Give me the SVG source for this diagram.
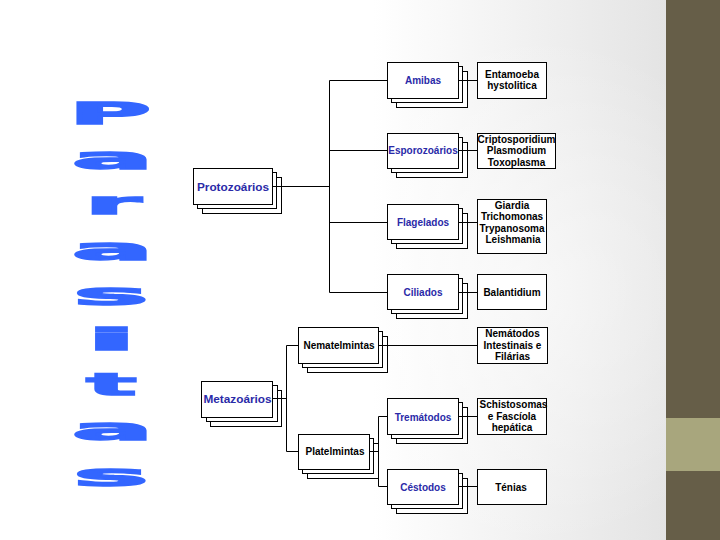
<svg xmlns="http://www.w3.org/2000/svg" width="720" height="540" viewBox="0 0 720 540">
<defs>
<linearGradient id="bg" gradientUnits="userSpaceOnUse" x1="0" y1="0" x2="666" y2="0">
<stop offset="0" stop-color="#ffffff"/>
<stop offset="0.56" stop-color="#ffffff"/>
<stop offset="1" stop-color="#e4e4e4"/>
</linearGradient>
<radialGradient id="glow" gradientUnits="userSpaceOnUse" cx="520" cy="290" r="260">
<stop offset="0" stop-color="#ffffff" stop-opacity="0.55"/>
<stop offset="1" stop-color="#ffffff" stop-opacity="0"/>
</radialGradient>
</defs>
<style>
.bx{fill:#ffffff;stroke:#000000;stroke-width:1}
.ln{fill:none;stroke:#000000;stroke-width:1}
.t{font-family:"Liberation Sans",Arial,sans-serif;font-weight:bold;font-size:10px;text-anchor:middle;fill:#000000}
.b{fill:#2a2aa8}
.big{font-size:11.8px}
.let{font-family:"DejaVu Sans",sans-serif;font-weight:bold;font-size:30px;text-anchor:middle;fill:#3366ff;stroke:#3366ff;stroke-width:1.5}
</style>
<rect x="0" y="0" width="720" height="540" fill="url(#bg)"/>
<rect x="0" y="0" width="666" height="540" fill="url(#glow)"/>
<rect x="666" y="0" width="54" height="540" fill="#665e48"/>
<rect x="666" y="418" width="54" height="53" fill="#a8a67d"/>

<g id="title">
<text class="let" x="110" y="124" textLength="82" lengthAdjust="spacingAndGlyphs">P</text>
<text class="let" x="112.5" y="169" textLength="81" lengthAdjust="spacingAndGlyphs">a</text>
<text class="let" x="113" y="214" textLength="56" lengthAdjust="spacingAndGlyphs">r</text>
<text class="let" x="112.5" y="260" textLength="81" lengthAdjust="spacingAndGlyphs">a</text>
<text class="let" x="111" y="305" textLength="75" lengthAdjust="spacingAndGlyphs">s</text>
<text class="let" x="111.5" y="350" textLength="50" lengthAdjust="spacingAndGlyphs">i</text>
<text class="let" x="111.5" y="395" textLength="50" lengthAdjust="spacingAndGlyphs">t</text>
<text class="let" x="112.5" y="440" textLength="81" lengthAdjust="spacingAndGlyphs">a</text>
<text class="let" x="111" y="486" textLength="75" lengthAdjust="spacingAndGlyphs">s</text>
</g>

<g id="nodes">
<g id="protozoarios">
<rect class="bx" x="202.5" y="177.5" width="79" height="36"/>
<rect class="bx" x="197.5" y="172.5" width="79" height="36"/>
<rect class="bx" x="193.5" y="168.5" width="79" height="36"/>
<text class="t b big" x="233" y="190.5">Protozoários</text>
</g>
<g id="metazoarios">
<rect class="bx" x="210.5" y="390.5" width="71" height="36"/>
<rect class="bx" x="206.5" y="385.5" width="71" height="36"/>
<rect class="bx" x="201.5" y="381.5" width="71" height="36"/>
<text class="t b big" x="237.5" y="402.5">Metazoários</text>
</g>
<g id="amibas">
<rect class="bx" x="396.5" y="71.5" width="71" height="36"/>
<rect class="bx" x="391.5" y="66.5" width="71" height="36"/>
<rect class="bx" x="387.5" y="62.5" width="71" height="36"/>
<text class="t b" x="423" y="84">Amibas</text>
</g>
<g id="esporozoarios">
<rect class="bx" x="396.5" y="142.5" width="71" height="35"/>
<rect class="bx" x="391.5" y="137.5" width="71" height="35"/>
<rect class="bx" x="387.5" y="133.5" width="71" height="35"/>
<text class="t b" x="423" y="154">Esporozoários</text>
</g>
<g id="flagelados">
<rect class="bx" x="396.5" y="213.5" width="71" height="35"/>
<rect class="bx" x="391.5" y="208.5" width="71" height="35"/>
<rect class="bx" x="387.5" y="204.5" width="71" height="35"/>
<text class="t b" x="423" y="226">Flagelados</text>
</g>
<g id="ciliados">
<rect class="bx" x="396.5" y="283.5" width="71" height="35"/>
<rect class="bx" x="391.5" y="278.5" width="71" height="35"/>
<rect class="bx" x="387.5" y="274.5" width="71" height="35"/>
<text class="t b" x="423" y="295.5">Ciliados</text>
</g>
<g id="nematelmintas">
<rect class="bx" x="307.5" y="336.5" width="80" height="36"/>
<rect class="bx" x="302.5" y="331.5" width="80" height="36"/>
<rect class="bx" x="298.5" y="327.5" width="80" height="36"/>
<text class="t" x="339" y="349">Nematelmintas</text>
</g>
<g id="platelmintas">
<rect class="bx" x="307.5" y="443.5" width="71" height="35"/>
<rect class="bx" x="302.5" y="438.5" width="71" height="35"/>
<rect class="bx" x="298.5" y="434.5" width="71" height="35"/>
<text class="t" x="335" y="455">Platelmintas</text>
</g>
<g id="trematodos">
<rect class="bx" x="396.5" y="407.5" width="71" height="36"/>
<rect class="bx" x="391.5" y="402.5" width="71" height="36"/>
<rect class="bx" x="387.5" y="398.5" width="71" height="36"/>
<text class="t b" x="423" y="420.5">Tremátodos</text>
</g>
<g id="cestodos">
<rect class="bx" x="396.5" y="478.5" width="71" height="35"/>
<rect class="bx" x="391.5" y="473.5" width="71" height="35"/>
<rect class="bx" x="387.5" y="469.5" width="71" height="35"/>
<text class="t b" x="423" y="490.5">Céstodos</text>
</g>
<g id="entamoeba">
<rect class="bx" x="477.5" y="62.5" width="69" height="36"/>
<text class="t" x="512" y="77.5">Entamoeba</text>
<text class="t" x="512" y="89">hystolitica</text>
</g>
<g id="cripto">
<rect class="bx" x="477.5" y="133.5" width="78" height="35"/>
<text class="t" x="516.5" y="142.5">Criptosporidium</text>
<text class="t" x="516.5" y="154">Plasmodium</text>
<text class="t" x="516.5" y="165.5">Toxoplasma</text>
</g>
<g id="giardia">
<rect class="bx" x="477.5" y="199.5" width="69" height="54"/>
<text class="t" x="512" y="208.5">Giardia</text>
<text class="t" x="512" y="220">Trichomonas</text>
<text class="t" x="512" y="231.5">Trypanosoma</text>
<text class="t" x="513" y="243">Leishmania</text>
</g>
<g id="balantidium">
<rect class="bx" x="477.5" y="274.5" width="69" height="35"/>
<text class="t" x="512" y="295.5">Balantidium</text>
</g>
<g id="nematodos">
<rect class="bx" x="477.5" y="327.5" width="70" height="36"/>
<text class="t" x="512.5" y="337">Nemátodos</text>
<text class="t" x="512.5" y="348.5">Intestinais e</text>
<text class="t" x="512.5" y="360">Filárias</text>
</g>
<g id="schistosomas">
<rect class="bx" x="477.5" y="398.5" width="69" height="36"/>
<text class="t" x="513.5" y="408">Schistosomas</text>
<text class="t" x="512" y="419.5">e Fascíola</text>
<text class="t" x="512" y="431">hepática</text>
</g>
<g id="tenias">
<rect class="bx" x="477.5" y="469.5" width="69" height="35"/>
<text class="t" x="511" y="490.5">Ténias</text>
</g>
</g>

<g id="connectors" class="ln">
<path class="ln" d="M272.5 186.5H329.5M329.5 80.5V292.5M329.5 80.5H387.5M329.5 150.5H387.5M329.5 222.5H387.5M329.5 292.5H387.5"/>
<path class="ln" d="M458.5 80.5H477.5M458.5 150.5H477.5M458.5 222.5H477.5M458.5 292.5H477.5"/>
<path class="ln" d="M272.5 398.5H286.5M286.5 345.5V451.5M286.5 345.5H298.5M286.5 451.5H298.5"/>
<path class="ln" d="M378.5 345.5H477.5"/>
<path class="ln" d="M369.5 451.5H378.5M378.5 416.5V486.5M378.5 416.5H387.5M378.5 486.5H387.5"/>
<path class="ln" d="M458.5 416.5H477.5M458.5 486.5H477.5"/>
</g>
</svg>
